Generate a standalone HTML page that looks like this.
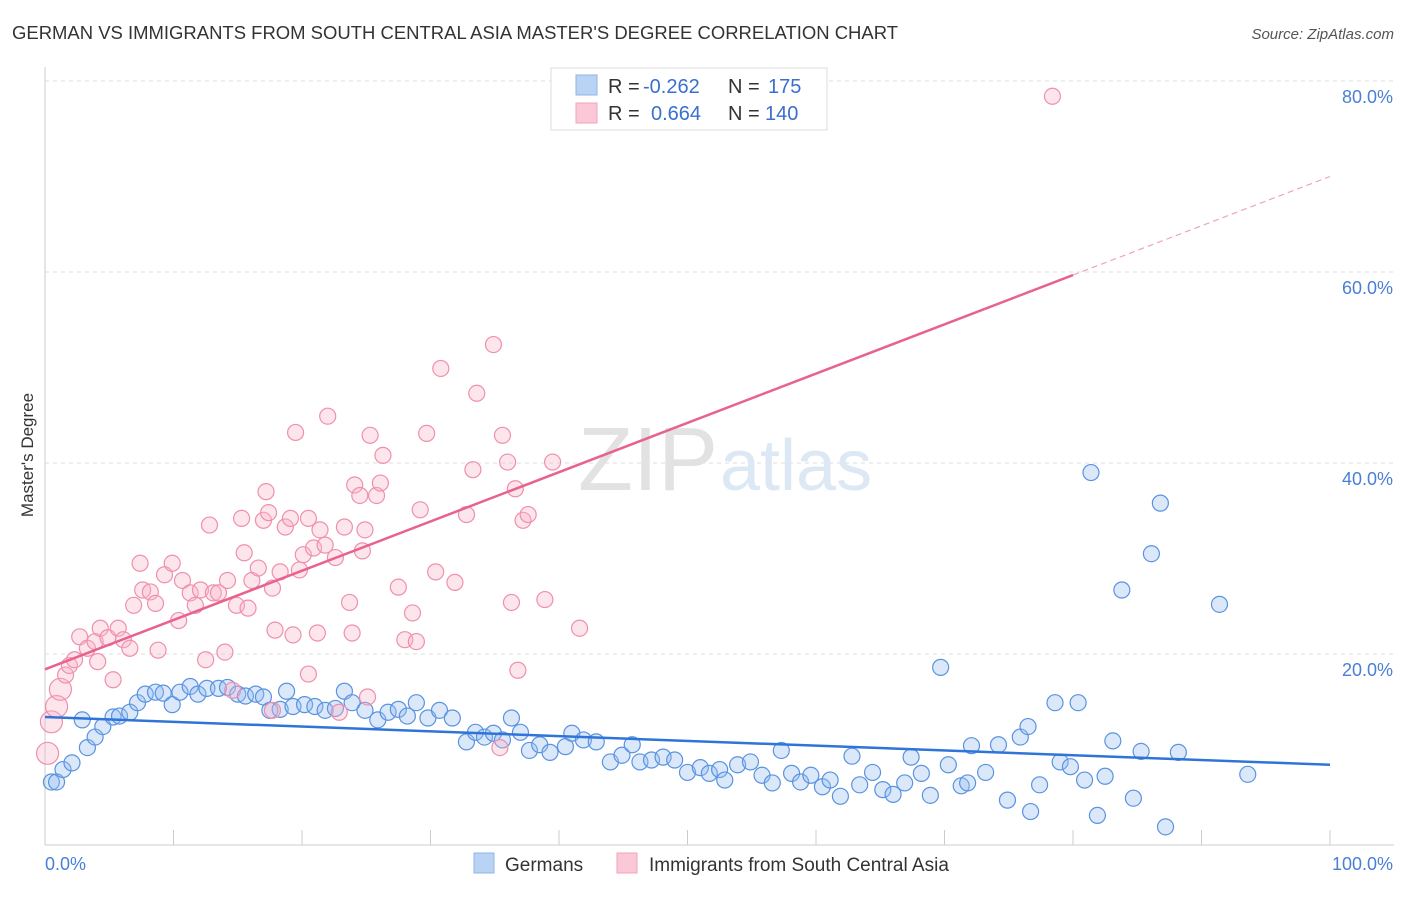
<!DOCTYPE html>
<html><head><meta charset="utf-8"><style>
body{margin:0;background:#fff;font-family:"Liberation Sans",sans-serif}
svg text{font-family:"Liberation Sans",sans-serif}
</style></head><body>
<svg id="chart" width="1406" height="892">
<text x="12" y="39" font-size="18" fill="#333" textLength="886" lengthAdjust="spacingAndGlyphs">GERMAN VS IMMIGRANTS FROM SOUTH CENTRAL ASIA MASTER'S DEGREE CORRELATION CHART</text>
<text x="1394" y="39" font-size="15" fill="#555" font-style="italic" text-anchor="end">Source: ZipAtlas.com</text>
<text transform="translate(33,455) rotate(-90)" font-size="17" fill="#333" text-anchor="middle">Master's Degree</text>
<g id="grid"></g>
<text x="718" y="490" font-size="90" fill="#e2e2e2" text-anchor="end" font-family="Liberation Serif">ZIP</text>
<text x="720" y="490" font-size="72" fill="#dde8f5">atlas</text>
<g id="pts"></g>
<g id="lines"></g>
<g>
<rect x="551" y="68" width="276" height="62" fill="#fff" stroke="#ddd"/>
<rect x="576" y="75" width="21" height="20" fill="#b9d3f5" stroke="#8fb4e6"/>
<rect x="576" y="103" width="21" height="20" fill="#fbc8d7" stroke="#f0a3ba"/>
<text x="608" y="93" font-size="20" fill="#333">R =</text>
<text x="643" y="93" font-size="20" fill="#3a6fd0">-0.262</text>
<text x="728" y="93" font-size="20" fill="#333">N =</text>
<text x="768" y="93" font-size="20" fill="#3a6fd0">175</text>
<text x="608" y="120" font-size="20" fill="#333">R =</text>
<text x="651" y="120" font-size="20" fill="#3a6fd0">0.664</text>
<text x="728" y="120" font-size="20" fill="#333">N =</text>
<text x="765" y="120" font-size="20" fill="#3a6fd0">140</text>
</g>
<g>
<rect x="474" y="853" width="20" height="20" fill="#b9d3f5" stroke="#8fb4e6"/>
<text x="505" y="871" font-size="19" fill="#333">Germans</text>
<rect x="617" y="853" width="20" height="20" fill="#fbc8d7" stroke="#f0a3ba"/>
<text x="649" y="871" font-size="19" fill="#333">Immigrants from South Central Asia</text>
</g>
<text x="45" y="870" font-size="18" fill="#4a7fd6">0.0%</text>
<text x="1393" y="870" font-size="18" fill="#4a7fd6" text-anchor="end">100.0%</text>
</svg>
<script>
const yTicks=[20,40,60,80];
const yTickLabels=["20.0%","40.0%","60.0%","80.0%"];
const blueX=[0.5,0.9,1.4,2.1,3.3,3.9,2.9,4.5,5.3,5.8,6.6,7.2,7.8,8.6,9.2,9.9,10.5,11.3,11.9,12.6,13.5,14.2,15.0,15.6,16.4,17.0,17.5,18.3,18.8,19.3,20.2,21.0,21.8,22.6,23.3,23.9,24.9,25.9,26.7,27.5,28.2,28.9,29.8,30.7,31.7,32.8,33.5,34.2,34.9,35.6,36.3,37.0,37.7,38.5,39.3,40.5,41.0,41.9,42.9,44.0,44.9,45.7,46.3,47.2,48.1,49.0,50.0,51.0,51.7,52.5,52.9,53.9,54.9,55.8,56.6,57.3,58.1,58.8,59.6,60.5,61.1,61.9,62.8,63.4,64.4,65.2,66.0,66.9,67.4,68.2,68.9,69.7,70.3,71.3,71.8,72.1,73.2,74.2,74.9,75.9,76.5,76.7,77.4,78.6,79.0,79.8,80.4,80.9,81.4,81.9,82.5,83.1,83.8,84.7,85.3,86.1,86.8,87.2,88.2,91.4,93.6];
const blueY=[6.6,6.6,7.9,8.6,10.2,11.3,13.1,12.4,13.4,13.5,13.9,14.9,15.8,16.0,15.9,14.7,16.0,16.6,15.8,16.4,16.4,16.5,15.8,15.6,15.8,15.5,14.1,14.2,16.1,14.5,14.7,14.5,14.1,14.3,16.1,14.9,14.1,13.1,13.9,14.2,13.5,14.9,13.3,14.1,13.3,10.8,11.8,11.3,11.7,11.0,13.3,11.8,9.9,10.5,9.7,10.3,11.7,11.0,10.8,8.7,9.4,10.5,8.7,8.9,9.2,8.9,7.6,8.1,7.5,7.9,6.8,8.4,8.7,7.3,6.5,9.9,7.5,6.6,7.3,6.1,6.8,5.1,9.3,6.3,7.6,5.8,5.3,6.5,9.2,7.5,5.2,18.6,8.4,6.2,6.5,10.4,7.6,10.5,4.7,11.3,12.4,3.5,6.3,14.9,8.7,8.2,14.9,6.8,39.0,3.1,7.2,10.9,26.7,4.9,9.8,30.5,35.8,1.9,9.7,25.2,7.4];
const pinkX=[0.2,0.5,0.9,1.2,1.6,1.9,2.3,2.7,3.3,3.9,4.3,4.9,5.3,5.7,6.1,6.6,6.9,7.4,7.6,8.2,8.6,8.8,9.3,9.9,10.4,10.7,11.3,11.7,12.1,12.5,12.8,13.1,13.5,14.0,14.2,14.9,15.3,15.5,15.8,16.1,16.6,17.0,17.2,17.4,17.7,17.9,18.3,18.7,19.1,19.3,19.5,19.8,20.1,20.5,20.9,21.2,21.4,21.8,22.0,22.6,23.3,23.7,23.9,24.1,24.5,24.7,24.9,25.3,25.8,26.1,26.3,27.5,28.0,28.6,28.9,29.2,29.7,30.4,30.8,31.9,32.8,33.3,33.6,34.9,35.4,35.6,36.0,36.3,36.6,36.8,37.2,37.6,38.9,39.5,41.6,78.4,25.1,22.9,20.5,17.7,14.6,4.1];
const pinkY=[9.6,12.9,14.5,16.3,17.8,18.8,19.4,21.8,20.6,21.3,22.7,21.7,17.3,22.7,21.5,20.6,25.1,29.5,26.7,26.5,25.3,20.4,28.3,29.5,23.5,27.7,26.4,25.1,26.7,19.4,33.5,26.4,26.4,20.2,27.7,25.1,34.2,30.6,24.8,27.7,29.0,34.0,37.0,34.8,26.9,22.5,28.6,33.3,34.2,22.0,43.2,28.8,30.4,34.2,31.1,22.2,33.0,31.4,44.9,30.1,33.3,25.4,22.2,37.7,36.6,30.8,33.0,42.9,36.6,37.9,40.8,27.0,21.5,24.3,21.3,35.1,43.1,28.6,49.9,27.5,34.6,39.3,47.3,52.4,10.2,42.9,40.1,25.4,37.3,18.3,34.0,34.6,25.7,40.1,22.7,78.4,15.5,13.9,17.9,14.1,16.2,19.2];
const blueTrend=[13.4,8.4];
const pinkTrend=[18.4,70.0];
const xS=v=>45+v*12.85, yS=v=>845-v*9.55;
const NS="http://www.w3.org/2000/svg";
function mk(t,a,p){const e=document.createElementNS(NS,t);for(const k in a)e.setAttribute(k,a[k]);p.appendChild(e);return e;}
const grid=document.getElementById('grid');
const ax=mk('line',{x1:45,y1:67,x2:45,y2:845,stroke:'#ccc'},grid);


const bx=mk('line',{x1:45,y1:845,x2:1394,y2:845,stroke:'#ccc'},grid);


for(let i=0;i<=10;i++){const t=mk('line',{x1:xS(i*10),y1:830,x2:xS(i*10),y2:845,stroke:'#ccc'},grid);

}
yTicks.forEach((v,i)=>{const l=mk('line',{x1:45,y1:yS(v),x2:1394,y2:yS(v),stroke:'#ddd','stroke-dasharray':'4 4'},grid);


const t=mk('text',{x:1393,y:yS(v)+22,'font-size':18,fill:'#4a7fd6','text-anchor':'end'},grid);t.textContent=yTickLabels[i];

});
const pts=document.getElementById('pts');
blueX.forEach((x,i)=>{const c=mk('circle',{cx:xS(x),cy:yS(blueY[i]),r:8,fill:'rgba(150,190,240,0.35)',stroke:'#5a93e0','stroke-width':1.2},pts);

});
pinkX.forEach((x,i)=>{const r=x<1.5?11:8;const c=mk('circle',{cx:xS(x),cy:yS(pinkY[i]),r:r,fill:'rgba(248,180,200,0.35)',stroke:'#ef8fae','stroke-width':1.2},pts);

});
const lines=document.getElementById('lines');
const bl=mk('line',{x1:xS(0),y1:yS(blueTrend[0]),x2:xS(100),y2:yS(blueTrend[1]),stroke:'#2f74d8','stroke-width':2.5},lines);


const pAt=x=>pinkTrend[0]+(pinkTrend[1]-pinkTrend[0])*x/100;
const pl=mk('line',{x1:xS(0),y1:yS(pAt(0)),x2:xS(80),y2:yS(pAt(80)),stroke:'#e8628f','stroke-width':2.5},lines);


const pd=mk('line',{x1:xS(80),y1:yS(pAt(80)),x2:xS(100),y2:yS(pAt(100)),stroke:'#f0a3ba','stroke-width':1.2,'stroke-dasharray':'6 4'},lines);


</script>
</body></html>
